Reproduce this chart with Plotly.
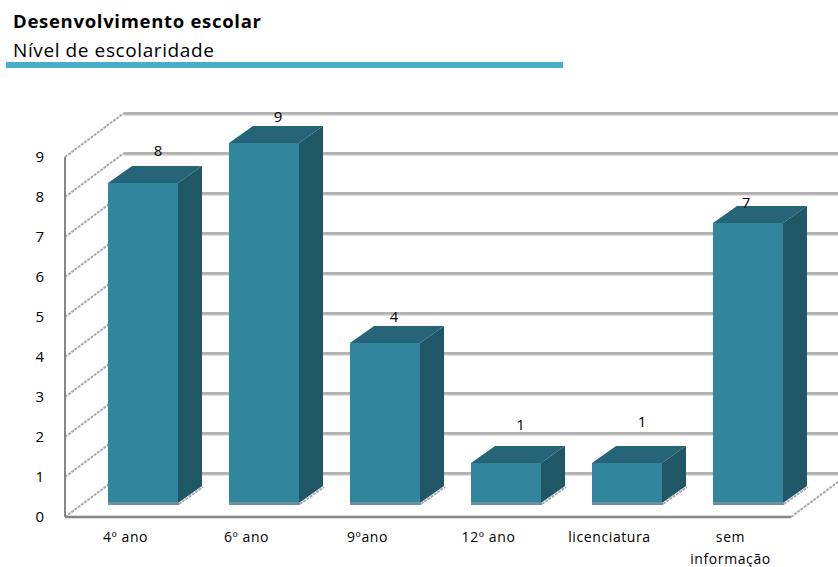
import plotly.graph_objects as go

# ---- data ----
categories = ["4º ano", "6º ano", "9ºano", "12º ano", "licenciatura", "sem informação"]
tick_labels = ["4º ano", "6º ano", "9ºano", "12º ano", "licenciatura", "sem<br>informação"]
values = [8, 9, 4, 1, 1, 7]
y_ticks = [0, 1, 2, 3, 4, 5, 6, 7, 8, 9]

title_text = "Desenvolvimento escolar"
subtitle_text = "Nível de escolaridade"

# ---- geometry (pixels of the 838x567 page) ----
W, H = 838, 567
L, R, T, B = 60, 838, 90, 522      # plot area
X0_PX, PX_PER_CAT = 65, 121        # front-left corner, category width
Y0_PX, PX_PER_UNIT = 517, 40       # floor line, one value unit

def ux(px):   # horizontal pixel distance -> x axis units
    return px / PX_PER_CAT

def uy(px):   # vertical pixel distance -> y axis units
    return px / PX_PER_UNIT

def paper_x(px):
    return (px - L) / (R - L)

def paper_y(px):
    return (B - px) / (B - T)

x_range = [-0.5 + ux(L - X0_PX), -0.5 + ux(R - X0_PX)]
y_range = [uy(Y0_PX - B), uy(Y0_PX - T)]
x_left = -0.5
x_right = len(categories) - 0.5

WALL_DX, WALL_DY = ux(59), uy(44)   # depth of the chart box
BAR_DX, BAR_DY = ux(24), uy(17)     # depth of a column
BAR_SHIFT, BAR_LIFT = ux(17.5), uy(14)
BAR_W = ux(70)

FRONT = "#31859c"
SIDE = "#205767"
TOP = "#266577"
STRIP = "#6d919b"
AXIS = "#868686"
GRID_LO = "#c0c0c0"
GRID_HI = "#a6a6a6"
DIAG = "#ababab"

LABEL_DX = [15, 14, 9, 14.5, 15, -2]
LABEL_DY = [-31, -25, -25, -37, -40, -19]

FONT = "Open Sans"
TICK_PX = 14

fig = go.Figure()
positions = list(range(len(categories)))

# ---- walls (behind the columns) ----
for v in y_ticks:
    fig.add_trace(go.Scatter(
        x=[x_left, x_left + WALL_DX], y=[v, v + WALL_DY], mode="lines",
        line=dict(color=DIAG, width=2, dash="3px,1px"), hoverinfo="skip"))
    fig.add_trace(go.Scatter(
        x=[x_left + WALL_DX, x_right + WALL_DX + 1], y=[v + WALL_DY - uy(1), v + WALL_DY - uy(1)],
        mode="lines", line=dict(color=GRID_LO, width=3.2), hoverinfo="skip"))
    fig.add_trace(go.Scatter(
        x=[x_left + WALL_DX, x_right + WALL_DX + 1], y=[v + WALL_DY, v + WALL_DY],
        mode="lines", line=dict(color=GRID_HI, width=1.4), hoverinfo="skip"))

fig.add_trace(go.Scatter(
    x=[x_right, x_right + WALL_DX], y=[0, WALL_DY], mode="lines",
    line=dict(color=DIAG, width=2, dash="3px,1px"), hoverinfo="skip"))
fig.add_trace(go.Scatter(
    x=[x_left, x_left], y=[y_ticks[0], y_ticks[-1]], mode="lines",
    line=dict(color=AXIS, width=2), hoverinfo="skip"))
fig.add_trace(go.Scatter(
    x=[x_left, x_right], y=[0, 0], mode="lines",
    line=dict(color=AXIS, width=2.6), hoverinfo="skip"))

# ---- columns: overlaid subplot so they sit on top of the walls ----
front_x = [p + BAR_SHIFT for p in positions]
fig.add_trace(go.Bar(
    x=front_x, y=values, base=BAR_LIFT, width=BAR_W, marker=dict(color=FRONT, line=dict(width=0)),
    yaxis="y2", customdata=categories, hovertemplate="%{customdata}: %{y}<extra></extra>"))

for fx, v in zip(front_x, values):
    xl, xr = fx - BAR_W / 2, fx + BAR_W / 2
    yb, yt = BAR_LIFT, BAR_LIFT + v
    fig.add_trace(go.Scatter(
        x=[xr, xr + BAR_DX, xr + BAR_DX, xr, xr], y=[yb, yb + BAR_DY, yt + BAR_DY, yt, yb],
        mode="lines", fill="toself", fillcolor=SIDE, line=dict(width=0), yaxis="y2", hoverinfo="skip"))
    fig.add_trace(go.Scatter(
        x=[xl, xr, xr + BAR_DX, xl + BAR_DX, xl], y=[yt, yt, yt + BAR_DY, yt + BAR_DY, yt],
        mode="lines", fill="toself", fillcolor=TOP, line=dict(width=0), yaxis="y2", hoverinfo="skip"))
    fig.add_trace(go.Scatter(
        x=[xl, xr + ux(1)], y=[yb - uy(0.5), yb - uy(0.5)], mode="lines",
        line=dict(color=STRIP, width=3), yaxis="y2", hoverinfo="skip"))
    fig.add_trace(go.Scatter(
        x=[xr + ux(1), xr + BAR_DX + ux(1)], y=[yb - uy(1), yb + BAR_DY - uy(1)], mode="lines",
        line=dict(color=DIAG, width=2, dash="3px,1px"), yaxis="y2", hoverinfo="skip"))

fig.add_trace(go.Scatter(
    x=[fx + ux(dx) for fx, dx in zip(front_x, LABEL_DX)],
    y=[v + BAR_LIFT - uy(dy) for v, dy in zip(values, LABEL_DY)],
    mode="text", text=[str(v) for v in values], textposition="middle center",
    textfont=dict(family=FONT, size=15, color="#000000"),
    yaxis="y2", hoverinfo="skip", cliponaxis=False))

# ---- header ----
fig.add_shape(type="rect", xref="paper", yref="paper",
              x0=paper_x(6), x1=paper_x(563), y0=paper_y(68), y1=paper_y(62),
              fillcolor="#47aec7", line=dict(width=0))
fig.add_annotation(text='<b><span style="letter-spacing:0.7px">' + title_text + "</span></b>",
                   xref="paper", yref="paper",
                   x=paper_x(11), y=paper_y(20), xanchor="left", yanchor="middle", showarrow=False,
                   font=dict(family=FONT, size=18.5, color="#000000"))
fig.add_annotation(text='<span style="letter-spacing:0.6px">' + subtitle_text + "</span>",
                   xref="paper", yref="paper",
                   x=paper_x(11), y=paper_y(49.5), xanchor="left", yanchor="middle", showarrow=False,
                   font=dict(family=FONT, size=19, color="#000000"))

span = f'<span style="font-size:{TICK_PX}px;letter-spacing:0.6px">'
fig.update_layout(
    width=W, height=H, autosize=False,
    margin=dict(l=L, r=W - R, t=T, b=H - B, pad=0, autoexpand=False),
    paper_bgcolor="#ffffff", plot_bgcolor="#ffffff",
    showlegend=False, barmode="overlay", bargap=0,
    font=dict(family=FONT, color="#000000"),
    xaxis=dict(range=x_range, tickmode="array", tickvals=positions, automargin=False,
               ticktext=[span + t.replace("<br>", "</span><br>" + span) + "</span>" for t in tick_labels],
               tickfont=dict(family=FONT, size=17, color="#000000"),
               showgrid=False, zeroline=False, showline=False, ticks="", tickangle=0, ticklabelstandoff=2),
    yaxis=dict(range=y_range, tickmode="array", tickvals=y_ticks, automargin=False,
               tickfont=dict(family=FONT, size=15, color="#000000"),
               showgrid=False, zeroline=False, showline=False, ticks="", ticklabelstandoff=15),
    yaxis2=dict(range=y_range, overlaying="y", visible=False, showgrid=False, zeroline=False, automargin=False),
)

fig.write_html("out.html", config={"displayModeBar": False},
               post_script="document.body.style.margin='0';document.body.style.overflow='hidden';")
